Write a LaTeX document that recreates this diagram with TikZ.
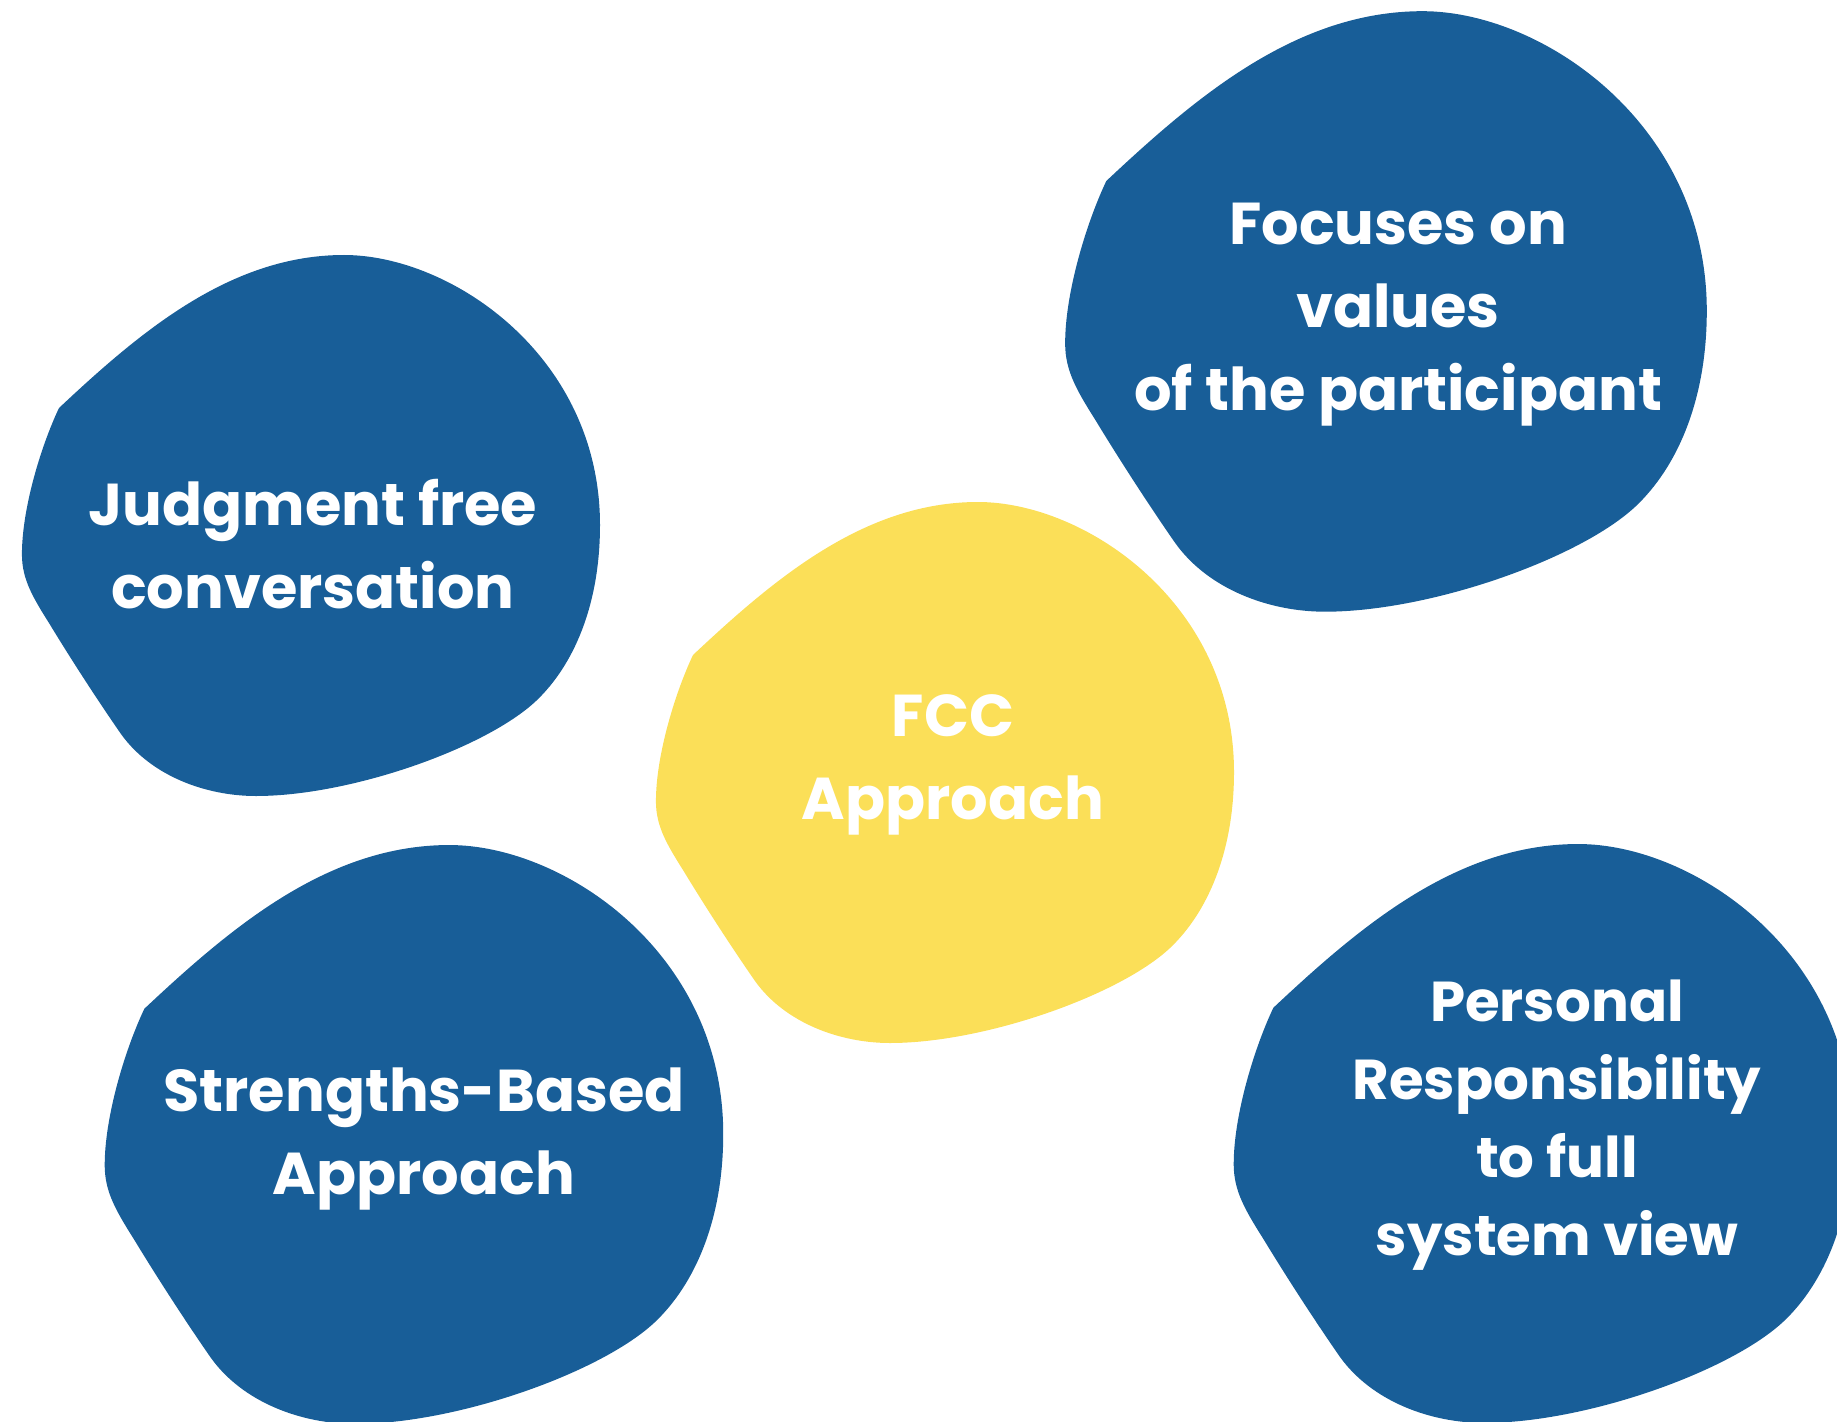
\documentclass[tikz,border=0pt]{standalone}
\usepackage{fontspec}
\setmainfont{Poppins}
\definecolor{blobblue}{RGB}{24, 94, 152}
\definecolor{blobyellow}{RGB}{251, 223, 88}

\tikzset{
  blobtext/.style={text=white, align=center, inner sep=0pt,
    font=\bfseries\fontsize{16.8}{23.6}\selectfont}
}

% one blob: colour, centre, scale
\newcommand{\blob}[3]{%
  \fill[#1, shift={(#2)}, scale=#3]
    (-252,118) .. controls (-170,195) and (-80,271) .. (33,271)
    .. controls (140,271) and (289,170) .. (289,1)
    .. controls (289,-80) and (262,-140) .. (225,-175)
    .. controls (175,-222) and (40,-270) .. (-55,-270)
    .. controls (-105,-270) and (-160,-250) .. (-190,-208)
    .. controls (-215,-172) and (-242,-130) .. (-262,-97)
    .. controls (-281,-67) and (-290,-50) .. (-289,-24)
    .. controls (-288,20) and (-270,80) .. (-252,118) -- cycle;}

\begin{document}
\begin{tikzpicture}[x=0.1mm, y=0.1mm]
  \useasboundingbox (0,0) rectangle (1837,-1422);
  \clip (0,0) rectangle (1837,-1422);

  % blobs
  \blob{blobblue}{311,-526}{1.0}
  \blob{blobblue}{1386,-312}{1.11}
  \blob{blobyellow}{945,-773}{1.0}
  \blob{blobblue}{414,-1135}{1.07}
  \blob{blobblue}{1543,-1134}{1.07}

  % texts
  \node[blobtext] (judgment) at (313,-544) {Judgment free\\conversation};
  \node[blobtext] (values) at (1398,-315) {Focuses on\\values\\of the participant};
  \node[blobtext] (fcc) at (953,-765) {FCC\\Approach};
  \node[blobtext] (strengths) at (424,-1139) {Strengths-Based\\Approach};
  \node[blobtext, font=\bfseries\fontsize{16}{22.2}\selectfont] (personal) at (1557,-1125) {Personal\\Responsibility\\to full\\system view};
\end{tikzpicture}
\end{document}
